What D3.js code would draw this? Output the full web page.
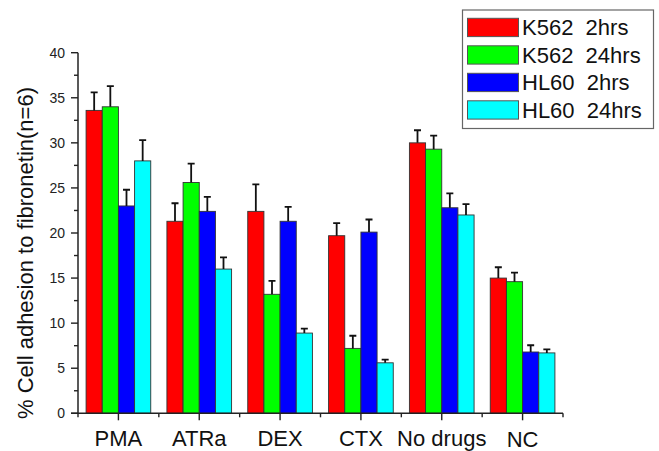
<!DOCTYPE html>
<html><head><meta charset="utf-8">
<script src="https://cdn.jsdelivr.net/npm/d3@7"></script>
<style>body{margin:0;background:#fff}svg{display:block}</style>
</head><body><svg id="c" width="659" height="451"></svg>
<script>
const categories = ["PMA","ATRa","DEX","CTX","No drugs","NC"];
const seriesNames = ["K562\u00a0\u00a02hrs","K562\u00a0\u00a024hrs","HL60\u00a0\u00a02hrs","HL60\u00a0\u00a024hrs"];
const colors = ["#ff0000","#00ff00","#0000ff","#00ffff"];
const k562_2h  = [33.6, 21.3, 22.4, 19.7, 30.0, 15.0];
const k562_24h = [34.0, 25.6, 13.2, 7.2, 29.3, 14.6];
const hl60_2h  = [23.0, 22.4, 21.3, 20.1, 22.8, 6.8];
const hl60_24h = [28.0, 16.0, 8.9, 5.6, 22.0, 6.7];
const k562_2h_err  = [2.0, 2.0, 3.0, 1.4, 1.4, 1.2];
const k562_24h_err = [2.3, 2.1, 1.5, 1.4, 1.5, 1.0];
const hl60_2h_err  = [1.8, 1.6, 1.6, 1.4, 1.6, 0.75];
const hl60_24h_err = [2.3, 1.3, 0.5, 0.35, 1.2, 0.4];
const yTicks = [0,5,10,15,20,25,30,35,40];

const values = [k562_2h, k562_24h, hl60_2h, hl60_24h];
const errs = [k562_2h_err, k562_24h_err, hl60_2h_err, hl60_24h_err];

const svg = d3.select("#c");
const font = "Arial, 'Liberation Sans', sans-serif";
const x0 = 78, x1 = 563, yTop = 52.7, yBot = 413.3;

const x = d3.scaleBand().domain(categories).range([x0, x1]).paddingInner(0).paddingOuter(0);
const xs = d3.scaleBand().domain(d3.range(4)).range([0, x.bandwidth()]).paddingInner(0).paddingOuter(0.5);
const y = d3.scaleLinear().domain([0, 40]).range([yBot, yTop]);

// bars
values.forEach((vals, s) => {
  const g = svg.append("g");
  g.selectAll("rect").data(vals).enter().append("rect")
    .attr("x", (d,i) => x(categories[i]) + xs(s))
    .attr("y", d => y(d))
    .attr("width", xs.bandwidth())
    .attr("height", d => y(0) - y(d))
    .attr("fill", colors[s])
    .attr("stroke", "#333").attr("stroke-width", 0.9);
  g.selectAll("path.err").data(vals).enter().append("path")
    .attr("class","err")
    .attr("d", (d,i) => {
      const cx = x(categories[i]) + xs(s) + xs.bandwidth()/2;
      const yt = y(d + errs[s][i]);
      return `M${cx},${y(d)}V${yt}M${cx-3.5},${yt}H${cx+3.5}`;
    })
    .attr("stroke", "#111").attr("stroke-width", 1.8).attr("fill","none");
});

// y axis
const ya = svg.append("g").attr("transform", `translate(${x0},0)`);
ya.append("line").attr("x1",0).attr("x2",0).attr("y1",yTop).attr("y2",yBot)
  .attr("stroke","#222").attr("stroke-width",1.5);
const minor = d3.range(0, 41, 2.5);
ya.selectAll("line.t").data(minor).enter().append("line").attr("class","t")
  .attr("x1", d => (d % 5 === 0) ? -7 : -4).attr("x2", 0)
  .attr("y1", d => y(d)).attr("y2", d => y(d))
  .attr("stroke","#222").attr("stroke-width",1.4);
ya.selectAll("text").data(yTicks).enter().append("text")
  .attr("x", -13).attr("y", d => y(d)).attr("dy","0.35em")
  .attr("text-anchor","end").attr("font-family",font).attr("font-size",14).attr("fill","#222")
  .text(d => d);

// x axis
const xa = svg.append("g");
xa.append("line").attr("x1",71).attr("x2",x1).attr("y1",yBot).attr("y2",yBot)
  .attr("stroke","#222").attr("stroke-width",1.5);
xa.selectAll("line.maj").data(categories).enter().append("line").attr("class","maj")
  .attr("x1", d => x(d)+x.bandwidth()/2).attr("x2", d => x(d)+x.bandwidth()/2)
  .attr("y1", yBot).attr("y2", yBot+7).attr("stroke","#222").attr("stroke-width",1.4);
const edges = categories.map(c => x(c)).concat([x1]);
xa.selectAll("line.min").data(edges).enter().append("line").attr("class","min")
  .attr("x1", d => d).attr("x2", d => d)
  .attr("y1", yBot).attr("y2", yBot+4).attr("stroke","#222").attr("stroke-width",1.4);
xa.selectAll("text").data(categories).enter().append("text")
  .attr("x", d => x(d)+x.bandwidth()/2).attr("y", d => d === "NC" ? 446.5 : 445.5)
  .attr("text-anchor","middle").attr("font-family",font).attr("font-size",22).attr("fill","#111")
  .text(d => d);

// y label
svg.append("text")
  .attr("transform", "translate(33,253) rotate(-90)")
  .attr("text-anchor","middle").attr("font-family",font).attr("font-size",22).attr("fill","#111")
  .text("% Cell adhesion to fibronetin(n=6)");

// legend
const lg = svg.append("g");
lg.append("rect").attr("x",462.5).attr("y",10).attr("width",191).attr("height",118.5)
  .attr("fill","#fff").attr("stroke","#666").attr("stroke-width",1.2);
seriesNames.forEach((n, i) => {
  const yy = 18.3 + i*27.5;
  lg.append("rect").attr("x",467.5).attr("y",yy).attr("width",51).attr("height",18.3)
    .attr("fill",colors[i]).attr("stroke","#555").attr("stroke-width",1);
  lg.append("text").attr("x",522).attr("y",yy+9.2).attr("dy","0.36em")
    .attr("font-family",font).attr("font-size",22).attr("fill","#111")
    .text(n);
});
</script></body></html>
